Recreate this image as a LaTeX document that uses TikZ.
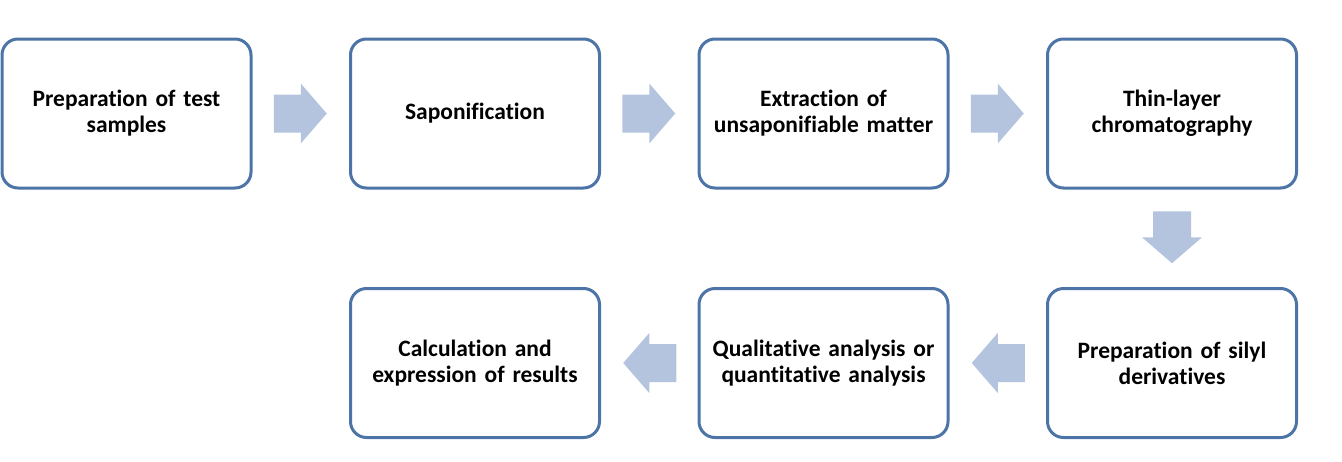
\documentclass[tikz,border=0pt]{standalone}
\usepackage{fontspec}
\setmainfont{Carlito}[Ligatures={NoCommon,NoRequired,NoContextual}]
\usetikzlibrary{calc}
\definecolor{boxline}{HTML}{4C74A6}
\definecolor{arrowfill}{HTML}{B4C3DE}
\begin{document}
\begin{tikzpicture}[x=1pt,y=-1pt,
  stepbox/.style={draw=boxline,line width=3pt,rounded corners=16pt,fill=white,
    minimum width=249pt,minimum height=149pt,inner sep=0pt,align=center,
    font=\fontsize{23.5}{26}\selectfont\bfseries,text width=240pt},
  blockarrow/.style={fill=arrowfill,draw=none}]
\useasboundingbox (0,0) rectangle (1342,461);
\node[stepbox] (b1) at (126.5,113.5) {Preparation of test\\samples};
\node[stepbox] (b2) at (475,113.5) {Saponification};
\node[stepbox] (b3) at (823.5,113.5) {Extraction of\\unsaponifiable matter};
\node[stepbox] (b4) at (1172,113.5) {Thin-layer\\chromatography};
\node[stepbox] (b7) at (1172,363) {Preparation of silyl\\derivatives};
\node[stepbox] (b6) at (823.5,363) {Qualitative analysis or\\quantitative analysis};
\node[stepbox] (b5) at (475,363) {Calculation and\\expression of results};
% right arrows
\foreach \a/\b in {b1/b2,b2/b3,b3/b4}{
  \coordinate (m) at ($(\a.east)!0.5!(\b.west)$);
  \fill[blockarrow] ($(m)+(-27,-19)$) -- ++(27,0) -- ++(0,-11) -- ++(26,30) -- ++(-26,30) -- ++(0,-11) -- ++(-27,0) -- cycle;
}
% down arrow
\coordinate (md) at ($(b4.south)!0.5!(b7.north)$);
\fill[blockarrow] ($(md)+(-19,-27)$) -- ++(38,0) -- ++(0,26) -- ++(11,0) -- ++(-30,26) -- ++(-30,-26) -- ++(11,0) -- cycle;
% left arrows
\foreach \a/\b in {b7/b6,b6/b5}{
  \coordinate (m) at ($(\a.west)!0.5!(\b.east)$);
  \fill[blockarrow] ($(m)+(27,-19)$) -- ++(-27,0) -- ++(0,-11) -- ++(-26,30) -- ++(26,30) -- ++(0,-11) -- ++(27,0) -- cycle;
}
\end{tikzpicture}
\end{document}
